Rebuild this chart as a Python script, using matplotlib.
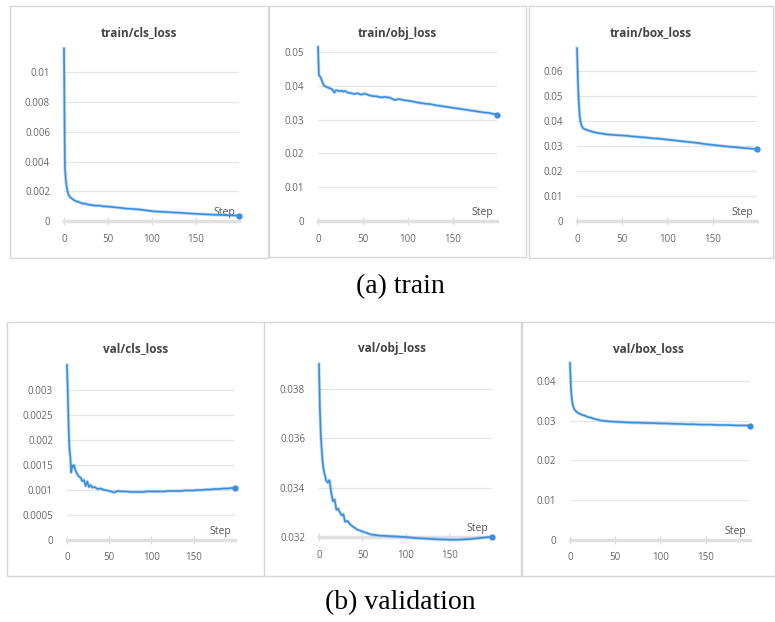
import matplotlib
matplotlib.use("Agg")
import matplotlib.pyplot as plt
from matplotlib.patches import Rectangle

W, H = 775, 622

# epochs shared by all six curves
epochs = [0, 1, 2, 3, 4, 5, 6, 7, 8, 10, 12, 14, 16, 18, 20, 22, 24, 26, 28, 30,
          33, 36, 40, 44, 48, 52, 56, 60, 65, 70, 75, 80, 85, 90, 95, 100, 105,
          110, 115, 120, 125, 130, 135, 140, 145, 150, 155, 160, 165, 170, 175,
          180, 185, 190, 195, 199]

train_cls = [0.0116, 0.0036, 0.0028, 0.0023, 0.0020, 0.00178, 0.00168, 0.00160,
             0.00155, 0.00146, 0.00138, 0.00132, 0.00130, 0.00124, 0.00121,
             0.00115, 0.00118, 0.00112, 0.00110, 0.00108, 0.00106, 0.00103,
             0.00104, 0.00099, 0.00098, 0.00096, 0.00093, 0.00091, 0.00088,
             0.00084, 0.00082, 0.00080, 0.00078, 0.00074, 0.00070, 0.00066,
             0.00064, 0.00062, 0.00061, 0.00059, 0.00057, 0.00056, 0.00054,
             0.00052, 0.00050, 0.00048, 0.00047, 0.00045, 0.00044, 0.00042,
             0.00041, 0.00040, 0.00039, 0.00038, 0.00037, 0.00036]

train_obj = [0.0515, 0.0432, 0.0428, 0.0425, 0.0418, 0.0410, 0.0404, 0.0400,
             0.0399, 0.0396, 0.0394, 0.0392, 0.0389, 0.0380, 0.0387, 0.0386,
             0.0384, 0.0386, 0.0383, 0.0385, 0.0380, 0.0379, 0.0376, 0.0378,
             0.0374, 0.0377, 0.0373, 0.0370, 0.0369, 0.0366, 0.0367, 0.0365,
             0.0358, 0.0361, 0.0358, 0.0356, 0.0354, 0.0351, 0.0349, 0.0347,
             0.0346, 0.0343, 0.0341, 0.0339, 0.0337, 0.0335, 0.0333, 0.0331,
             0.0329, 0.0327, 0.0325, 0.0323, 0.0321, 0.0320, 0.0317, 0.0315]

train_box = [0.0690, 0.0560, 0.0470, 0.0420, 0.0395, 0.0382, 0.0374, 0.0370,
             0.0368, 0.0365, 0.0362, 0.0360, 0.0358, 0.0355, 0.0354, 0.0352,
             0.0351, 0.0350, 0.0349, 0.0348, 0.0346, 0.0345, 0.0344, 0.0343,
             0.0342, 0.0341, 0.0340, 0.0338, 0.0337, 0.0335, 0.0334, 0.0332,
             0.0330, 0.0329, 0.0327, 0.0325, 0.0323, 0.0321, 0.0319, 0.0317,
             0.0315, 0.0313, 0.0311, 0.0308, 0.0306, 0.0304, 0.0302, 0.0300,
             0.0298, 0.0296, 0.0295, 0.0293, 0.0291, 0.0290, 0.0288, 0.0286]

val_cls = [0.00350, 0.00290, 0.00220, 0.00180, 0.00165, 0.00135, 0.00148,
           0.00146, 0.00150, 0.00140, 0.00132, 0.00127, 0.00125, 0.00118,
           0.00120, 0.00108, 0.00117, 0.00106, 0.00110, 0.00105, 0.00106,
           0.00102, 0.00103, 0.00100, 0.00099, 0.00097, 0.00095, 0.00098,
           0.00097, 0.00097, 0.00096, 0.00096, 0.00096, 0.00096, 0.00097,
           0.00097, 0.00097, 0.00097, 0.00097, 0.00098, 0.00098, 0.00098,
           0.00098, 0.00099, 0.00099, 0.00099, 0.00100, 0.00100, 0.00101,
           0.00101, 0.00102, 0.00102, 0.00103, 0.00103, 0.00104, 0.00104]

val_obj = [0.0390, 0.0372, 0.0362, 0.0356, 0.0351, 0.0348, 0.0346, 0.0345,
           0.0343, 0.0342, 0.0343, 0.0338, 0.03345, 0.03352, 0.0331, 0.03315,
           0.0330, 0.03288, 0.03292, 0.03262, 0.03265, 0.0325, 0.0324, 0.0323,
           0.03225, 0.0322, 0.03215, 0.0321, 0.03208, 0.03206, 0.03205,
           0.03204, 0.03203, 0.03202, 0.03201, 0.03200, 0.03198, 0.03196,
           0.03195, 0.03194, 0.03193, 0.03192, 0.03191, 0.03190, 0.03190,
           0.03189, 0.03189, 0.03189, 0.03190, 0.03191, 0.03192, 0.03194,
           0.03196, 0.03198, 0.03200, 0.03201]

val_box = [0.0445, 0.0382, 0.0355, 0.0340, 0.0333, 0.0328, 0.0325, 0.0323,
           0.0321, 0.0318, 0.0316, 0.0314, 0.0313, 0.0311, 0.0309, 0.0308,
           0.0307, 0.0305, 0.0304, 0.0303, 0.0301, 0.0300, 0.0299, 0.0298,
           0.02975, 0.0297, 0.02965, 0.0296, 0.02955, 0.0295, 0.0295, 0.02945,
           0.0294, 0.0294, 0.02935, 0.0293, 0.0293, 0.02925, 0.0292, 0.0292,
           0.02915, 0.0291, 0.0291, 0.02905, 0.0290, 0.0290, 0.0290, 0.02895,
           0.0289, 0.0289, 0.0289, 0.02885, 0.0288, 0.0288, 0.0288, 0.02875]

# title, values, yticks, labels, ylim, x-axis level, box (l, t, r, b), axes (l, t, r, b) in pixels
panels = [
    ("train/cls_loss", train_cls, [0, 0.002, 0.004, 0.006, 0.008, 0.01],
     ["0", "0.002", "0.004", "0.006", "0.008", "0.01"], (0, 0.0117), 0,
     (10, 6, 268, 258), (64, 47, 239, 221)),
    ("train/obj_loss", train_obj, [0, 0.01, 0.02, 0.03, 0.04, 0.05],
     ["0", "0.01", "0.02", "0.03", "0.04", "0.05"], (0, 0.0515), 0,
     (269, 6, 526, 257), (318, 47, 497, 221)),
    ("train/box_loss", train_box, [0, 0.01, 0.02, 0.03, 0.04, 0.05, 0.06],
     ["0", "0.01", "0.02", "0.03", "0.04", "0.05", "0.06"], (0, 0.0695), 0,
     (529, 6, 773, 258), (577, 47, 757, 221)),
    ("val/cls_loss", val_cls, [0, 0.0005, 0.001, 0.0015, 0.002, 0.0025, 0.003],
     ["0", "0.0005", "0.001", "0.0015", "0.002", "0.0025", "0.003"],
     (0, 0.00352), 0, (7, 322, 265, 576), (67, 364, 235, 540)),
    ("val/obj_loss", val_obj, [0.032, 0.034, 0.036, 0.038],
     ["0.032", "0.034", "0.036", "0.038"], (0.03188, 0.0390), 0.032,
     (264, 322, 521, 576), (319, 364, 492, 540)),
    ("val/box_loss", val_box, [0, 0.01, 0.02, 0.03, 0.04],
     ["0", "0.01", "0.02", "0.03", "0.04"], (0, 0.0445), 0,
     (522, 322, 775, 576), (570, 363, 750, 540)),
]

LINE = "#3b8ede"
FONT = ["Open Sans", "DejaVu Sans"]

fig = plt.figure(figsize=(W / 100, H / 100), dpi=100)
fig.patch.set_facecolor("white")


def px_rect(l, t, r, b):
    return [l / W, 1 - b / H, (r - l) / W, (b - t) / H]


for title, vals, yt, ytl, ylim, axis_y, box, axpos in panels:
    bl, bt, br, bb = box
    fig.patches.append(Rectangle((bl / W, 1 - bb / H), (br - bl) / W, (bb - bt) / H,
                                 transform=fig.transFigure, facecolor="white",
                                 edgecolor="#d6d6d6", linewidth=1.0, zorder=-5))
    fig.text((bl + br) / 2 / W, 1 - (bt + 27) / H, title, ha="center", va="center",
             fontsize=8.5, fontweight="bold", color="#444444", family=FONT)

    ax = fig.add_axes(px_rect(*axpos), zorder=2)
    ax.set_facecolor("none")
    # faded raw line behind the smoothed one
    ax.plot(epochs, vals, color=LINE, lw=2.4, alpha=0.3, zorder=3, clip_on=False)
    ax.plot(epochs, vals, color=LINE, lw=1.2, zorder=3, clip_on=False)
    ax.plot(epochs[-1], vals[-1], "o", color=LINE, ms=3.5, zorder=4, clip_on=False)
    ax.set_xlim(0, 199)
    ax.set_ylim(*ylim)
    ax.set_xticks([0, 50, 100, 150])
    ax.set_yticks(yt)
    ax.set_yticklabels(ytl)
    for y in yt:
        if y != axis_y:
            ax.axhline(y, color="#e6e6e6", lw=0.9, zorder=1)
    for s in ["top", "right", "left"]:
        ax.spines[s].set_visible(False)
    ax.spines["bottom"].set_position(("data", axis_y))
    ax.spines["bottom"].set_color("#e0e0e0")
    ax.spines["bottom"].set_linewidth(2.5)
    ax.tick_params(axis="y", length=0, pad=10, labelsize=7, labelcolor="#666666")
    ax.tick_params(axis="x", direction="inout", length=6, width=0.9, color="#dddddd",
                   pad=6, labelsize=7, labelcolor="#666666")
    for lab in ax.get_xticklabels() + ax.get_yticklabels():
        lab.set_family(FONT)
    ax.annotate("Step", xy=(1, axis_y), xycoords=("axes fraction", "data"),
                xytext=(-4, 3), textcoords="offset pixels", ha="right", va="bottom",
                fontsize=7.5, color="#555555", family=FONT, zorder=2)

fig.text(400 / W, 1 - 287 / H, "(a) train", ha="center", va="center",
         fontsize=20, family=["Liberation Serif", "DejaVu Serif"], color="black")
fig.text(400 / W, 1 - 603 / H, "(b) validation", ha="center", va="center",
         fontsize=20, family=["Liberation Serif", "DejaVu Serif"], color="black")

fig.savefig("out.png", dpi=100)
